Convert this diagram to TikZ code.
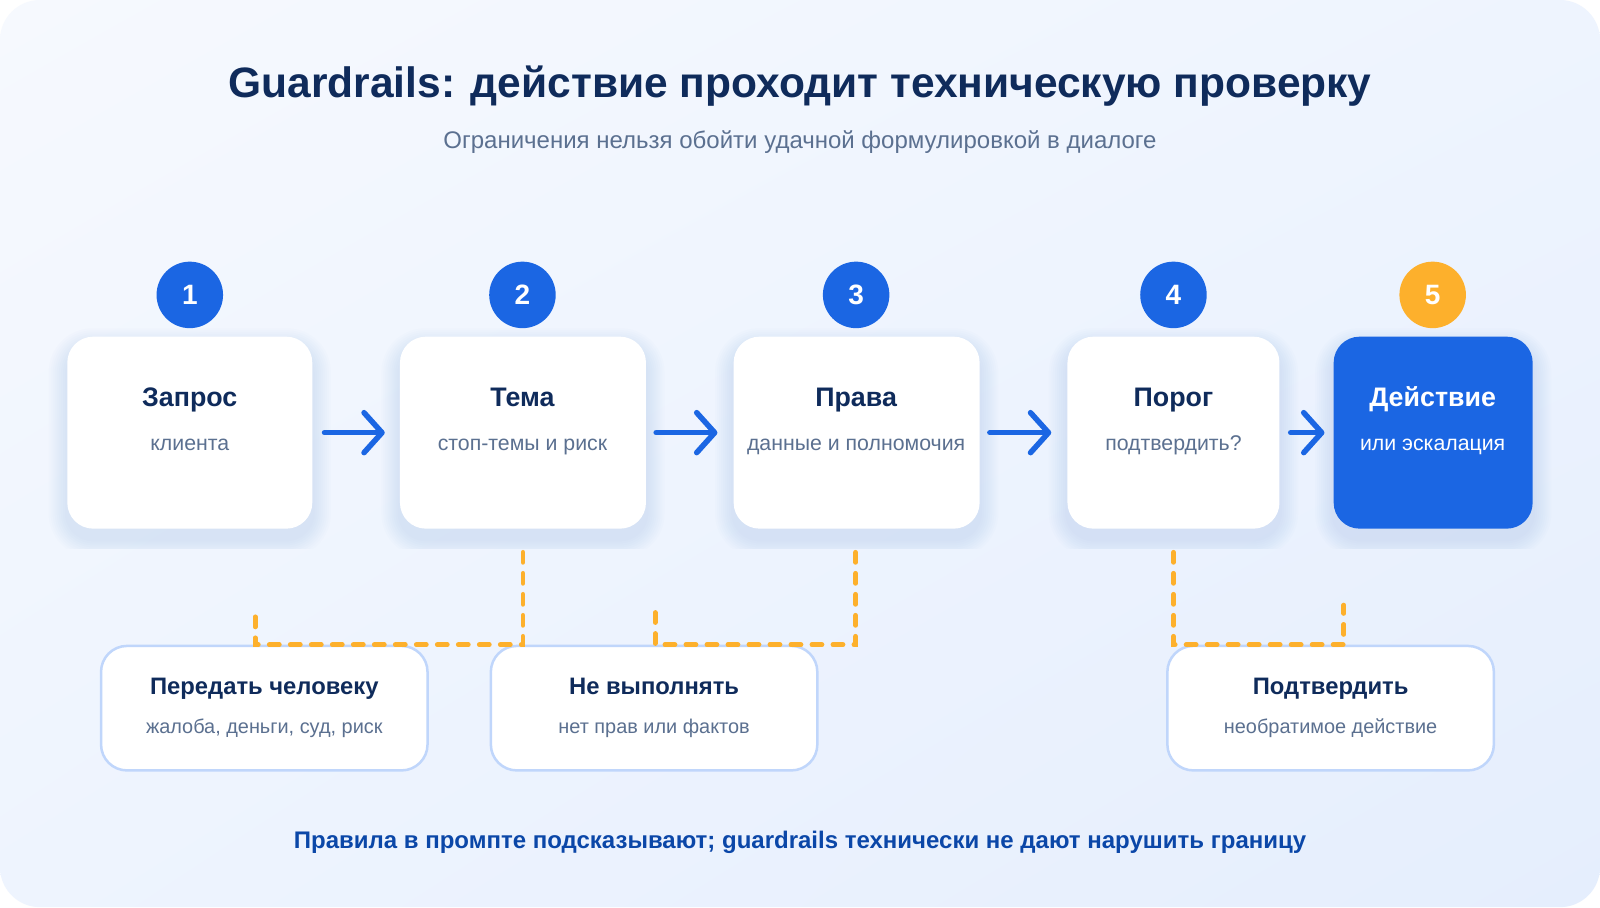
\documentclass[tikz,border=0pt]{standalone}
\usepackage{fontspec}
\setmainfont{Liberation Sans}
\usetikzlibrary{arrows.meta,calc,shadings}
\definecolor{navy}{HTML}{0F2B5B}
\definecolor{subgray}{HTML}{5B7090}
\definecolor{mainblue}{HTML}{1B66E3}
\definecolor{amber}{HTML}{FDB02C}
\definecolor{footblue}{HTML}{0B47A8}
\definecolor{bgtl}{HTML}{F6F9FE}
\definecolor{bgbr}{HTML}{E5EEFD}
\definecolor{bgmid}{HTML}{EEF4FE}
\definecolor{shadowc}{HTML}{9DB7E3}
\definecolor{softborder}{HTML}{C0D6FB}
\pgfdeclarelayer{bg}
\pgfsetlayers{bg,main}
\begin{document}
\begin{tikzpicture}[x=1.020408pt,y=-1.020408pt,
  mainbox/.style={draw=none,fill=white,rounded corners=26pt,minimum height=192pt,inner sep=0pt},
  lowbox/.style={draw=softborder,line width=2.5pt,fill=white,rounded corners=26pt,minimum width=326.5pt,minimum height=124.5pt,inner sep=0pt},
  numdot/.style={circle,fill=mainblue,minimum size=66.5pt,inner sep=0pt,text=white,font=\bfseries\fontsize{28}{31}\selectfont},
  boxttl/.style={anchor=base,text=navy,font=\bfseries\fontsize{26.8}{30}\selectfont,inner sep=0pt},
  boxsub/.style={anchor=base,text=subgray,font=\fontsize{21.3}{25}\selectfont,inner sep=0pt},
  lowttl/.style={anchor=base,text=navy,font=\bfseries\fontsize{23.8}{27}\selectfont,inner sep=0pt},
  lowsub/.style={anchor=base,text=subgray,font=\fontsize{19.9}{23}\selectfont,inner sep=0pt},
  flowarrow/.style={draw=mainblue,line width=5.5pt,line cap=round,-{Straight Barb[length=18pt,width=40pt,round]}},
  guard/.style={draw=amber,line width=4.8pt,line cap=round,dash pattern=on 10pt off 11pt},
]
\useasboundingbox (0,0) rectangle (1568,889);
\begin{pgfonlayer}{bg}
  \fill[white] (0,0) rectangle (1568,889);
  \shade[rounded corners=40pt,upper left=bgtl,upper right=bgmid,lower left=bgmid,lower right=bgbr]
    (0,0) rectangle (1568,889);
\end{pgfonlayer}

% titles
\node[anchor=base,text=navy,font=\bfseries\fontsize{42.5}{48}\selectfont,inner sep=0pt] (title) at (784,96)
  {Guardrails: действие проходит техническую проверку};
\node[anchor=base,text=subgray,font=\fontsize{24}{28}\selectfont,inner sep=0pt] (subtitle) at (784,146)
  {Ограничения нельзя обойти удачной формулировкой в диалоге};
\node[anchor=base,text=footblue,font=\bfseries\fontsize{24}{28}\selectfont,inner sep=0pt] (footer) at (784,832)
  {Правила в промпте подсказывают; guardrails технически не дают нарушить границу};

% main boxes
\node[mainbox,minimum width=245pt] (b1) at (186,424) {};
\node[mainbox,minimum width=246pt] (b2) at (512.5,424) {};
\node[mainbox,minimum width=246pt] (b3) at (839.5,424) {};
\node[mainbox,minimum width=212pt] (b4) at (1150,424) {};
\node[mainbox,minimum width=199pt,fill=mainblue] (b5) at (1404.5,424) {};

% shadows
\begin{pgfonlayer}{bg}
  \begin{scope}
    \clip (0,0) rectangle (1568,538);
    \foreach \b in {b1,b2,b3,b4,b5}{
      \foreach \i in {2,4,...,18}{
        \fill[shadowc,opacity=0.032,rounded corners=26pt+\i pt]
          ($(\b.north west)+(-\i,-\i+10)$) rectangle ($(\b.south east)+(\i,\i+10)$);
      }
    }
  \end{scope}
\end{pgfonlayer}

% number dots
\node[numdot] (n1) at (186,289) {1};
\node[numdot] (n2) at (512,289) {2};
\node[numdot] (n3) at (839,289) {3};
\node[numdot] (n4) at (1150,289) {4};
\node[numdot,fill=amber] (n5) at (1404,289) {5};

% box texts
\node[boxttl] (t1) at (186,398) {Запрос};
\node[boxsub] (s1) at (186,441) {клиента};
\node[boxttl] (t2) at (512,398) {Тема};
\node[boxsub] (s2) at (512,441) {стоп-темы и риск};
\node[boxttl] (t3) at (839,398) {Права};
\node[boxsub] (s3) at (839,441) {данные и полномочия};
\node[boxttl] (t4) at (1150,398) {Порог};
\node[boxsub] (s4) at (1150,441) {подтвердить?};
\node[boxttl,text=white] (t5) at (1404,398) {Действие};
\node[boxsub,text=white] (s5) at (1404,441) {или эскалация};

% flow arrows
\draw[flowarrow] ([xshift=12pt]b1.east) -- ([xshift=-15pt]b2.west);
\draw[flowarrow] ([xshift=10pt]b2.east) -- ([xshift=-16pt]b3.west);
\draw[flowarrow] ([xshift=10pt]b3.east) -- ([xshift=-16pt]b4.west);
\draw[flowarrow] ([xshift=11pt]b4.east) -- ([xshift=-9pt]b5.west);

% lower boxes
\node[lowbox] (l1) at (259,694) {};
\node[lowbox] (l2) at (641,694) {};
\node[lowbox] (l3) at (1304,694) {};
\node[lowttl] (lt1) at (259,681) {Передать человеку};
\node[lowsub] (ls1) at (259,719) {жалоба, деньги, суд, риск};
\node[lowttl] (lt2) at (641,681) {Не выполнять};
\node[lowsub] (ls2) at (641,719) {нет прав или фактов};
\node[lowttl] (lt3) at (1304,681) {Подтвердить};
\node[lowsub] (ls3) at (1304,719) {необратимое действие};

% guard connectors
\coordinate (g1s) at ($(b2.south)+(0,23)$);
\coordinate (g1e) at (250,599);
\coordinate (g2s) at ($(b3.south)+(-1,23)$);
\coordinate (g2e) at (642,598);
\coordinate (g3s) at ($(b4.south)+(0,23)$);
\coordinate (g3e) at (1317,593);
\draw[guard] (g1s) -- (g1s |- l1.north) -- (g1e |- l1.north) -- (g1e);
\draw[guard] (g2s) -- (g2s |- l2.north) -- (g2e |- l2.north) -- (g2e);
\draw[guard] (g3s) -- (g3s |- l3.north) -- (g3e |- l3.north) -- (g3e);
\end{tikzpicture}
\end{document}
